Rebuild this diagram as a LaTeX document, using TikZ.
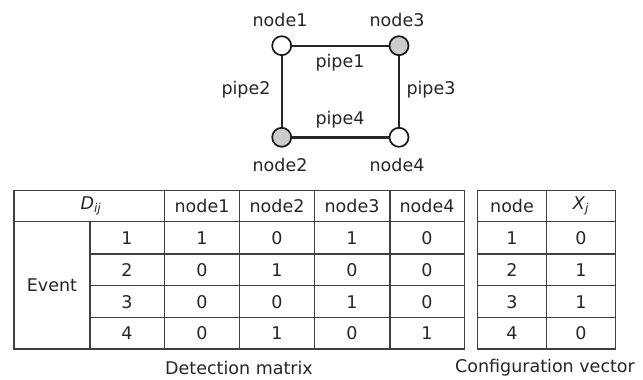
\documentclass[tikz,border=0pt]{standalone}
\usepackage{fontspec}
\setmainfont{DejaVu Sans}
\begin{document}
\begin{tikzpicture}[x=1pt,y=-1pt,
  txt/.style={font=\fontsize{17.5}{20}\selectfont, inner sep=0pt, text=black!85},
  pnode/.style={circle, draw=black!90, line width=1.7pt, minimum size=19pt, inner sep=0pt},
  pipe/.style={line width=2.4pt, draw=black!85},
  grid/.style={line width=1.1pt, draw=black!75}]
\useasboundingbox (0,0) rectangle (643,380);
% network
\node[pnode, fill=white] (n1) at (281.7,45.7) {};
\node[pnode, fill=black!20] (n3) at (399,45.7) {};
\node[pnode, fill=black!20] (n2) at (281.7,137.3) {};
\node[pnode, fill=white] (n4) at (399,137.3) {};
\draw[pipe] (n1) -- (n3);
\draw[pipe] (n1) -- (n2);
\draw[pipe] (n3) -- (n4);
\draw[pipe] (n2) -- (n4);
\node[txt] (l1) at (280,20) {node1};
\node[txt] (l3) at (397,20) {node3};
\node[txt] (l2) at (280,165) {node2};
\node[txt] (l4) at (397,165) {node4};
\node[txt] (p1) at (340,63) {pipe1};
\node[txt] (p2) at (246,90) {pipe2};
\node[txt] (p3) at (431,90) {pipe3};
\node[txt] (p4) at (340,120) {pipe4};
% detection matrix grid
\draw[grid] (14,190.7) rectangle (464.3,349);
\draw[grid] (14,221.7) -- (464.3,221.7);
\foreach \y in {254,285.7,317.7} \draw[grid] (90,\y) -- (464.3,\y);
\draw[grid] (90,221.7) -- (90,349);
\foreach \x in {164.3,239.5,314.5,390} \draw[grid] (\x,190.7) -- (\x,349);
% configuration vector grid
\draw[grid] (477.7,190.7) rectangle (615.3,349);
\draw[grid] (477.7,221.7) -- (615.3,221.7);
\foreach \y in {254,285.7,317.7} \draw[grid] (477.7,\y) -- (615.3,\y);
\draw[grid] (546.7,190.7) -- (546.7,349);
% header texts
\node[txt] (hd) at (91,206.2) {\textit{D}\textsubscript{\textit{ij}}};
\node[txt] (hn1) at (202,206.2) {node1};
\node[txt] (hn2) at (277,206.2) {node2};
\node[txt] (hn3) at (352,206.2) {node3};
\node[txt] (hn4) at (427,206.2) {node4};
\node[txt] (hnode) at (512,206.2) {node};
\node[txt] (hx) at (581,206.2) {\textit{X}\textsubscript{\textit{j}}};
\node[txt] (ev) at (52,285.5) {Event};
% rows
\foreach \r/\y/\a/\b/\c/\d/\xv in {1/238/1/0/1/0/0, 2/269.8/0/1/0/0/1, 3/301.7/0/0/1/0/1, 4/333.3/0/1/0/1/0}{
  \node[txt] (e\r) at (127,\y) {\r};
  \node[txt] (a\r) at (202,\y) {\a};
  \node[txt] (b\r) at (277,\y) {\b};
  \node[txt] (c\r) at (352,\y) {\c};
  \node[txt] (d\r) at (427,\y) {\d};
  \node[txt] (k\r) at (512,\y) {\r};
  \node[txt] (x\r) at (581,\y) {\xv};
}
\node[txt] (cap1) at (239,368) {Detection matrix};
\node[txt] (cap2) at (545,368) {Configuration vector};
\end{tikzpicture}
\end{document}
